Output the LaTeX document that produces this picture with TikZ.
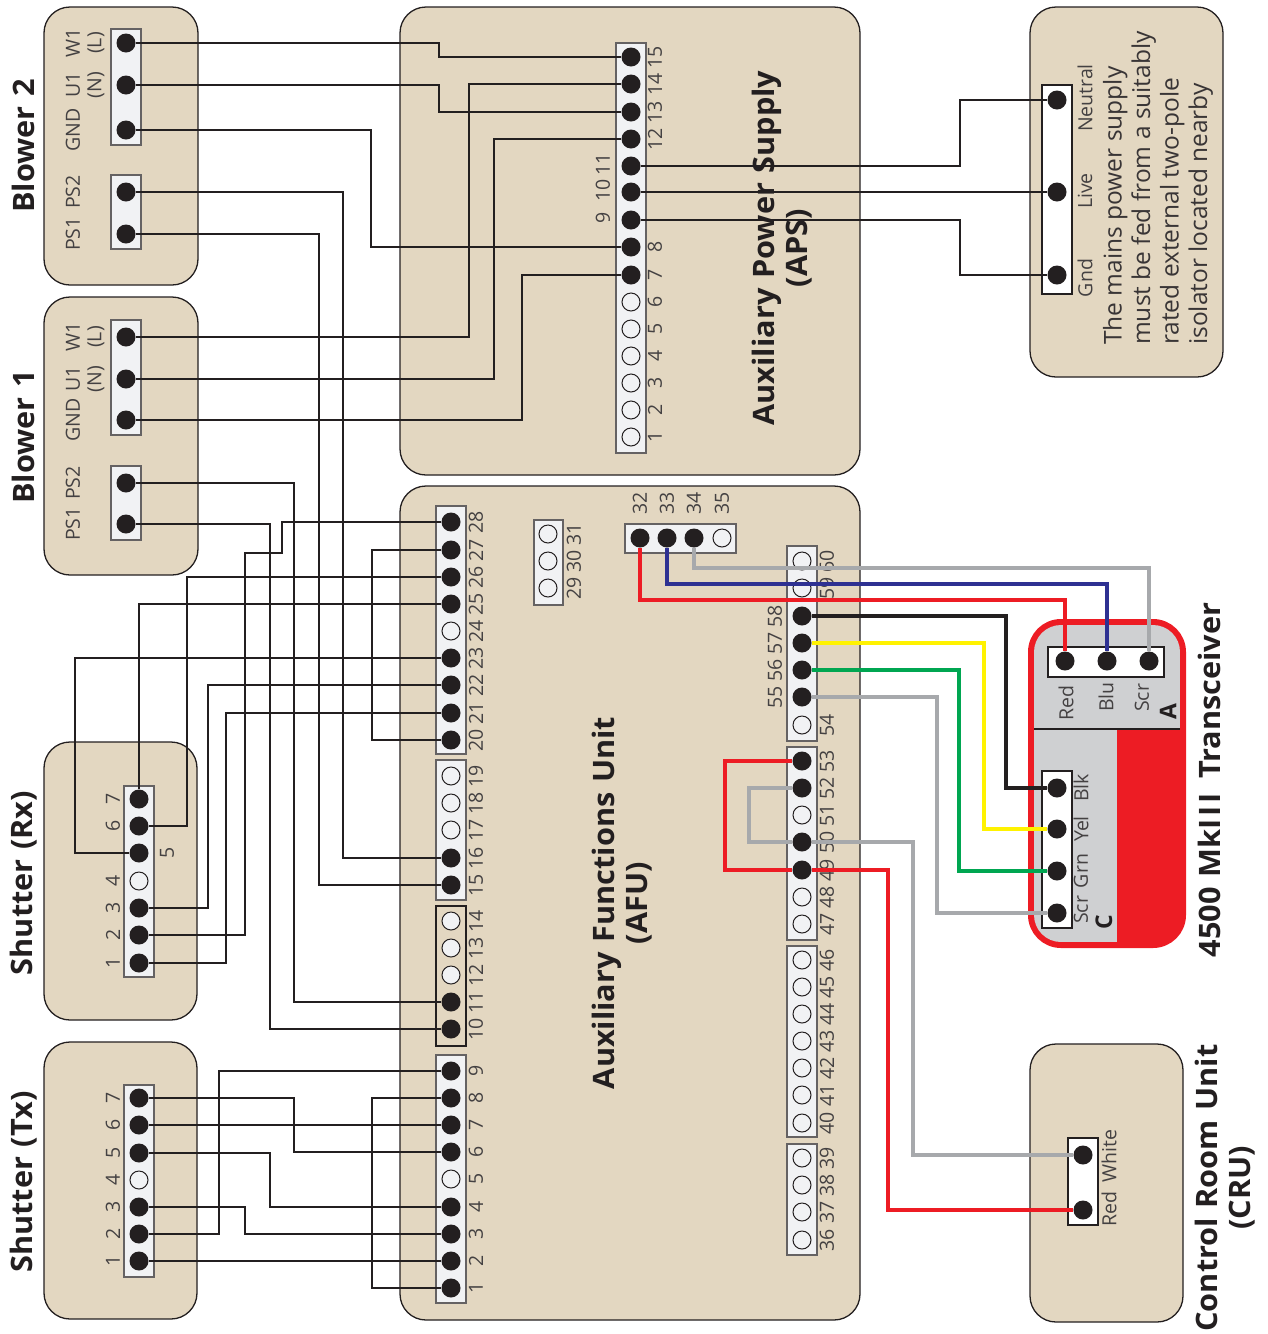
\documentclass[tikz,border=0pt]{standalone}
\usepackage{fontspec}
\setmainfont{Open Sans}
\newfontfamily\titlefont[FakeStretch=1.04,WordSpace=1.2]{Open Sans}
\definecolor{boxtan}{HTML}{E3D7C1}
\definecolor{stripgrey}{HTML}{F1F2F4}
\definecolor{inkblack}{HTML}{231F20}
\definecolor{wirered}{HTML}{ED1C24}
\definecolor{wireblue}{HTML}{2E3192}
\definecolor{wireyellow}{HTML}{FFF200}
\definecolor{wiregreen}{HTML}{00A651}
\definecolor{wiregrey}{HTML}{A7A9AC}
\definecolor{panelgrey}{HTML}{CFD0D2}
\tikzset{
  unitbox/.style={fill=boxtan,draw=inkblack,line width=1.3pt,rounded corners=26pt},
  stripbox/.style={fill=stripgrey,draw=inkblack!70,line width=1.1pt},
  whitebox/.style={fill=white,draw=inkblack,line width=1.3pt},
  pinon/.style={circle,fill=inkblack,draw=none,inner sep=0pt,minimum size=19pt},
  pinoff/.style={circle,fill=stripgrey,draw=inkblack,line width=1pt,inner sep=0pt,minimum size=18pt},
  num/.style={rotate=90,inner sep=0pt,text=inkblack!85,font=\fontsize{19.5}{20}\selectfont},
  smalltag/.style={rotate=90,inner sep=0pt,text=inkblack!85,font=\fontsize{19.5}{20}\selectfont},
  boldtag/.style={rotate=90,inner sep=0pt,text=inkblack,font=\fontsize{23}{24}\selectfont\bfseries},
  title/.style={rotate=90,inner sep=0pt,align=center,text=inkblack,font=\fontsize{29.5}{33}\selectfont\titlefont\bfseries},
  wire/.style={draw=inkblack,line width=2.5pt},
  cable/.style={line width=3.1pt}
}
\begin{document}
\begin{tikzpicture}[x=1pt,y=-1pt]
\useasboundingbox (0,0) rectangle (1268,1334);

\newcommand\strip[4]{\draw[stripbox] (#1,#2) rectangle (#3,#4)}
\newcommand\wireVia[4][wire]{\draw[#1] (#2) -- (#3,0 |- #2) -- (#3,0 |- #4) -- (#4)}

\foreach \xa/\ya/\xb/\yb in {44/7/198/285,44/297/198/575,44/742/197/1020,44/1042/197/1319,400/7/860/475,400/486/860/1320,1030/7/1223/377,1030/1044/1183/1322}
{
	\draw[unitbox] (\xa,\ya) rectangle (\xb,\yb);
}

\draw[fill=wirered,draw=wirered,line width=6pt,rounded corners=30pt] (1031,622) rectangle (1183,945);
\begin{scope}
	\clip[rounded corners=27pt] (1034,625) rectangle (1180,942);
	\fill[panelgrey] (1034,625) rectangle (1180,729);
	\fill[panelgrey] (1034,729) rectangle (1117,942);
	\draw[inkblack,line width=1.2pt] (1034,729) -- (1180,729);
\end{scope}

\node[title] (blowertwo) at (23,146) {Blower 2};
\node[title] (blowerone) at (23,437) {Blower 1};
\node[title] (shutterrx) at (24,883) {Shutter (Rx)};
\node[title] (shuttertx) at (24,1182) {Shutter (Tx)};
\node[title] (aps) at (782,248) {Auxiliary Power Supply\\(APS)};
\node[title] (afu) at (622,903) {Auxiliary Functions Unit\\(AFU)};
\node[title] (trans) at (1209,780) {4500 MkI\kern3pt I\kern3pt I\ \,Transceiver};
\node[title] (cru) at (1225,1188) {Control Room Unit\\(CRU)};
\node[rotate=90,inner sep=0pt,align=left,text=inkblack!90,font=\fontsize{24.5}{28.5}\selectfont] (mainsnote) at (1158,188) {The mains power supply\\must be fed from a suitably\\rated external two-pole\\isolator located nearby};

\strip{111}{29}{141}{145};
\strip{111}{175}{141}{249};
\strip{111}{320}{141}{435};
\strip{111}{466}{141}{540};
\strip{124}{786}{154}{977};
\strip{124}{1085}{154}{1277};
\strip{616}{43}{646}{453};
\strip{436}{506}{466}{754};
\strip{436}{760}{466}{900};
\draw[fill=boxtan,draw=inkblack,line width=1.2pt] (436,906) rectangle (466,1046);
\strip{436}{1055}{466}{1303};
\strip{534}{520}{563}{605};
\strip{625}{524}{736}{553};
\strip{787}{546}{817}{741};
\strip{787}{747}{817}{940};
\strip{787}{946}{817}{1137};
\strip{787}{1144}{817}{1255};
\foreach \xa/\ya/\xb/\yb in {1042/85/1072/294,1048/647/1164/677,1042/771/1072/928,1068/1138/1098/1225}
{
	\draw[whitebox] (\xa,\ya) rectangle (\xb,\yb);
}

\foreach \p/\y in {btwow/43,btwou/85,btwog/130,btwoa/192,btwob/234,bonew/337,boneu/379,boneg/420,bonea/483,boneb/524}
{
	\node[pinon] (\p) at (126,\y) {};
}
\foreach \n/\y in {W1/43,U1/85,GND/130,PS2/192,PS1/234}
{
	\node[smalltag] (btwot\n) at (73,\y) {\n};
}
\foreach \n/\y in {W1/337,U1/379,GND/420,PS2/483,PS1/524}
{
	\node[smalltag] (bonet\n) at (73,\y) {\n};
}
\node[smalltag] (btwotl) at (96,43) {(L)};
\node[smalltag] (btwotn) at (96,85) {(N)};
\node[smalltag] (bonetl) at (96,337) {(L)};
\node[smalltag] (bonetn) at (96,379) {(N)};

\foreach \n/\y/\s in {1/963/pinon,2/935/pinon,3/908/pinon,4/881/pinoff,5/853/pinon,6/826/pinon,7/799/pinon}
{
	\node[\s] (rx\n) at (139,\y) {};
}
\foreach \n/\y in {1/963,2/935,3/908,4/881,6/826,7/799}
{
	\node[num] (rxn\n) at (113,\y) {\n};
}
\node[num] (rxn5) at (167,853) {5};

\foreach \n/\y/\s in {1/1261/pinon,2/1234/pinon,3/1207/pinon,4/1180/pinoff,5/1153/pinon,6/1125/pinon,7/1098/pinon}
{
	\node[\s] (tx\n) at (139,\y) {};
	\node[num] (txn\n) at (113,\y) {\n};
}

\foreach \n/\y/\s in {1/437/pinoff,2/410/pinoff,3/383/pinoff,4/356/pinoff,5/329/pinoff,6/302/pinoff,7/275/pinon,8/247/pinon,9/220/pinon,10/192/pinon,11/166/pinon,12/139/pinon,13/112/pinon,14/84/pinon,15/57/pinon}
{
	\node[\s] (aps\n) at (631,\y) {};
}
\foreach \n/\y in {1/437,2/410,3/383,4/356,5/329,6/302,7/275,8/247,12/139,13/112,14/84,15/57}
{
	\node[num] (apsn\n) at (655,\y) {\n};
}
\foreach \n/\y in {9/218,10/190,11/164}
{
	\node[num] (apsn\n) at (603,\y) {\n};
}

\foreach \n/\y/\s in {1/1288/pinon,2/1261/pinon,3/1234/pinon,4/1207/pinon,5/1179/pinoff,6/1152/pinon,7/1125/pinon,8/1098/pinon,9/1071/pinon,10/1029/pinon,11/1002/pinon,12/975/pinoff,13/948/pinoff,14/921/pinoff,15/885/pinon,16/858/pinon,17/830/pinoff,18/803/pinoff,19/776/pinoff,20/740/pinon,21/713/pinon,22/685/pinon,23/658/pinon,24/631/pinoff,25/604/pinon,26/577/pinon,27/550/pinon,28/522/pinon}
{
	\node[\s] (afu\n) at (451,\y) {};
	\node[num] (afun\n) at (476,\y) {\n};
}
\foreach \n/\y in {29/588,30/561,31/534}
{
	\node[pinoff] (afu\n) at (548,\y) {};
	\node[num] (afun\n) at (574,\y) {\n};
}
\foreach \n/\x/\s in {32/640/pinon,33/667/pinon,34/694/pinon,35/722/pinoff}
{
	\node[\s] (afu\n) at (\x,538) {};
	\node[num] (afun\n) at (\x,503) {\n};
}
\foreach \n/\y/\s in {36/1240/pinoff,37/1212/pinoff,38/1185/pinoff,39/1158/pinoff,40/1123/pinoff,41/1095/pinoff,42/1068/pinoff,43/1041/pinoff,44/1014/pinoff,45/987/pinoff,46/960/pinoff,47/924/pinoff,48/897/pinoff,49/870/pinon,50/842/pinon,51/815/pinoff,52/788/pinon,53/761/pinon,54/725/pinoff,55/697/pinon,56/670/pinon,57/643/pinon,58/616/pinon,59/588/pinoff,60/561/pinoff}
{
	\node[\s] (afu\n) at (802,\y) {};
}
\foreach \n/\y in {36/1240,37/1212,38/1185,39/1158,40/1123,41/1095,42/1068,43/1041,44/1014,45/987,46/960,47/924,48/897,49/870,50/842,51/815,52/788,53/761,54/725,59/588,60/561}
{
	\node[num] (afun\n) at (827,\y) {\n};
}
\foreach \n/\y in {55/697,56/670,57/643,58/616}
{
	\node[num] (afun\n) at (775,\y) {\n};
}

\foreach \p/\t/\y/\ly in {neutral/Neutral/100/98,live/Live/192/191,gnd/Gnd/275/278}
{
	\node[pinon] (\p) at (1057,\y) {};
	\node[smalltag] (\p t) at (1085,\ly) {\t};
}
\foreach \p/\x in {ared/1065,ablu/1107,ascr/1149}
{
	\node[pinon] (\p) at (\x,661) {};
}
\node[smalltag] (aredt) at (1066,703) {Red};
\node[smalltag] (ablut) at (1106,697) {Blu};
\node[smalltag] (ascrt) at (1142,698) {Scr};
\node[boldtag] (atag) at (1168,712) {A};
\foreach \p/\t/\y/\ly in {cblk/Blk/788/788,cyel/Yel/829/829,cgrn/Grn/871/871,cscr/Scr/913/910}
{
	\node[pinon] (\p) at (1057,\y) {};
	\node[smalltag] (\p t) at (1081,\ly) {\t};
}
\node[boldtag] (ctag) at (1104,922) {C};
\node[pinon] (cruw) at (1083,1155) {};
\node[pinon] (crur) at (1083,1210) {};
\node[smalltag] (cruwt) at (1109,1156) {White};
\node[smalltag] (crurt) at (1109,1209) {Red};

\wireVia{btwow}{439}{aps15};
\wireVia{btwou}{439}{aps13};
\wireVia{btwog}{371}{aps8};
\wireVia{btwoa}{343}{afu16};
\wireVia{btwob}{319}{afu15};
\wireVia{bonew}{469}{aps14};
\wireVia{boneu}{494}{aps12};
\wireVia{boneg}{522}{aps7};
\wireVia{bonea}{294}{afu11};
\wireVia{boneb}{270}{afu10};

\wireVia{aps11}{960}{neutral};
\draw[wire] (aps10) -- (live);
\wireVia{aps9}{960}{gnd};

\coordinate (bendone) at (282,553);
\coordinate (bendtwo) at (245,553);
\draw[wire] (afu28) -| (bendone) -- (bendtwo) |- (rx2);
\wireVia{afu27}{372}{afu20};
\wireVia{afu26}{187}{rx6};
\draw[wire] (afu25) -| (rx7);
\wireVia{afu23}{75}{rx5};
\wireVia{afu22}{208}{rx3};
\wireVia{afu21}{226}{rx1};

\wireVia{tx7}{294}{afu6};
\draw[wire] (tx6) -- (afu7);
\wireVia{tx5}{270}{afu4};
\wireVia{tx3}{245}{afu3};
\wireVia{tx2}{219}{afu9};
\draw[wire] (tx1) -- (afu2);
\wireVia{afu8}{372}{afu1};

\coordinate (runred) at (1065,600);
\coordinate (runblue) at (1107,584);
\coordinate (rungrey) at (1149,568);
\draw[cable,wirered] (afu32) |- (runred) -- (ared);
\draw[cable,wireblue] (afu33) |- (runblue) -- (ablu);
\draw[cable,wiregrey] (afu34) |- (rungrey) -- (ascr);
\wireVia[cable,inkblack]{afu58}{1006}{cblk};
\wireVia[cable,wireyellow]{afu57}{984}{cyel};
\wireVia[cable,wiregreen]{afu56}{959}{cgrn};
\wireVia[cable,wiregrey]{afu55}{937}{cscr};
\wireVia[cable,wirered]{afu53}{725}{afu49};
\wireVia[cable,wiregrey]{afu52}{749}{afu50};
\wireVia[cable,wiregrey]{afu50}{913}{cruw};
\wireVia[cable,wirered]{afu49}{888}{crur};
\end{tikzpicture}
\end{document}
